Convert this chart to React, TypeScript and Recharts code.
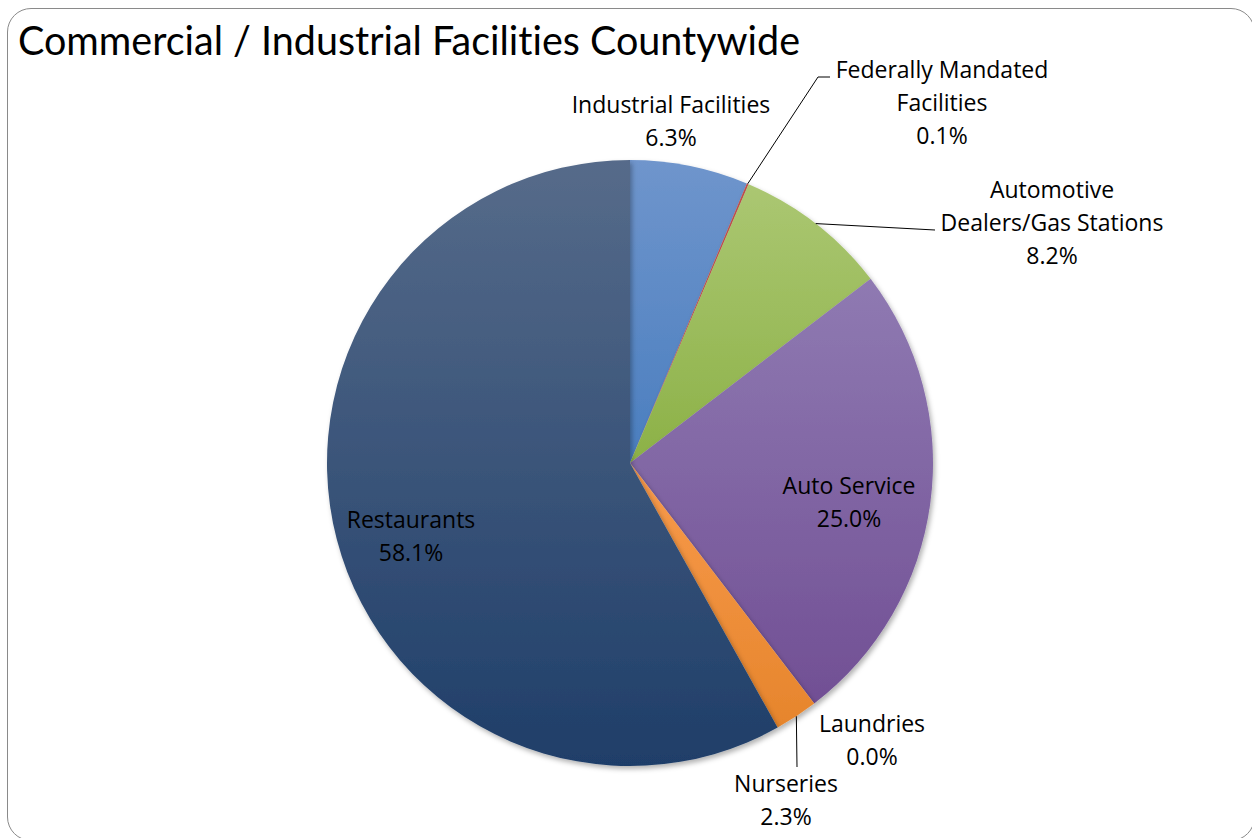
import React from 'react';
import { PieChart, Pie, Cell } from 'recharts';

// Facility categories, clockwise from 12 o'clock
const categories = [
  'Industrial Facilities',
  'Federally Mandated Facilities',
  'Automotive Dealers/Gas Stations',
  'Auto Service',
  'Laundries',
  'Nurseries',
  'Restaurants',
];
const shares = [6.3, 0.1, 8.2, 25.0, 0.0, 2.3, 58.1];

const title = 'Commercial / Industrial Facilities Countywide';

// Label text lines (category name split the way the chart wraps it)
const labelLines = [
  ['Industrial Facilities'],
  ['Federally Mandated', 'Facilities'],
  ['Automotive', 'Dealers/Gas Stations'],
  ['Auto Service'],
  ['Laundries'],
  ['Nurseries'],
  ['Restaurants'],
];

// gradient top / bottom per slice
const topColors = ['#6F95CC', '#C0504D', '#ABC772', '#8F7AB2', '#4BACC6', '#F89A4C', '#566B8A'];
const bottomColors = ['#4A7EBF', '#C0504D', '#8CB147', '#714F94', '#4BACC6', '#E6852C', '#1F3E69'];

// label placement relative to pie centre (px), leader elbow points if any
const labelLayout: { dx: number; dy: number; leader?: [number, number][] }[] = [
  { dx: 41, dy: -350 },
  { dx: 312, dy: -385, leader: [[188, -386], [200, -386]] },
  { dx: 422, dy: -265, leader: [[305, -233]] },
  { dx: 219, dy: 31 },
  { dx: 242, dy: 269 },
  { dx: 156, dy: 329, leader: [[167, 304]] },
  { dx: -219, dy: 65 },
];

const data = categories.map((name, i) => ({ name, value: shares[i] }));

const TITLE_FONT = 'Lato, "Open Sans", sans-serif';
const FONT = '"Open Sans", Lato, sans-serif';
const RADIAN = Math.PI / 180;
const LINE_H = 33;

const renderLabel = (props: any) => {
  const { cx, cy, midAngle, outerRadius, index, value } = props;
  const lay = labelLayout[index];
  const lines = [...labelLines[index], `${Number(value).toFixed(1)}%`];
  const tx = cx + lay.dx;
  const ty = cy + lay.dy;
  let leader = null;
  if (lay.leader) {
    const sx = cx + outerRadius * Math.cos(-midAngle * RADIAN);
    const sy = cy + outerRadius * Math.sin(-midAngle * RADIAN);
    const pts = [[sx, sy], ...lay.leader.map(([x, y]) => [cx + x, cy + y])];
    leader = (
      <polyline
        points={pts.map((p) => p.join(',')).join(' ')}
        fill="none"
        stroke="#000"
        strokeWidth={1}
      />
    );
  }
  return (
    <g key={`lbl-${index}`}>
      {leader}
      {lines.map((t, j) => (
        <text
          key={j}
          x={tx}
          y={ty + j * LINE_H}
          textAnchor="middle"
          fill="#000"
          fontSize={23}
          fontFamily={FONT}
        >
          {t}
        </text>
      ))}
    </g>
  );
};

export default function App() {
  return (
    <div style={{ position: 'absolute', left: 0, top: 0, width: 1252, height: 838, overflow: 'hidden', background: '#fff' }}>
      <div
        style={{
          position: 'absolute',
          left: 7,
          top: 8,
          width: 1246,
          height: 831,
          border: '1.5px solid #8a8a8a',
          borderRadius: 24,
        }}
      />
      <svg width={1252} height={80} style={{ position: 'absolute', left: 0, top: 0 }}>
        <text
          x={18}
          y={55}
          fontSize={40}
          fontFamily={TITLE_FONT}
          fill="#000"
          textLength={782}
          lengthAdjust="spacingAndGlyphs"
          style={{ fontVariantLigatures: 'none' }}
        >
          {title}
        </text>
      </svg>
      <div style={{ position: 'absolute', left: 0, top: 0 }}>
        <PieChart width={1252} height={838} margin={{ top: 0, right: 0, bottom: 0, left: 0 }}>
          <defs>
            {topColors.map((c, i) => (
              <linearGradient key={i} id={`grad-${i}`} x1="0" y1="0" x2="0" y2="1">
                <stop offset="0%" stopColor={c} />
                <stop offset="100%" stopColor={bottomColors[i]} />
              </linearGradient>
            ))}
            <filter id="pieShadow" x="-10%" y="-10%" width="120%" height="120%">
              <feDropShadow dx={2} dy={3} stdDeviation={2.5} floodColor="#000" floodOpacity={0.3} />
            </filter>
          </defs>
          <Pie
            data={data}
            dataKey="value"
            nameKey="name"
            cx={630}
            cy={463}
            outerRadius={303}
            startAngle={90}
            endAngle={-270}
            stroke="none"
            label={renderLabel}
            labelLine={false}
            isAnimationActive={false}
            style={{ filter: 'url(#pieShadow)' }}
          >
            {data.map((d, i) => (
              <Cell key={d.name} fill={`url(#grad-${i})`} />
            ))}
          </Pie>
        </PieChart>
      </div>
    </div>
  );
}
